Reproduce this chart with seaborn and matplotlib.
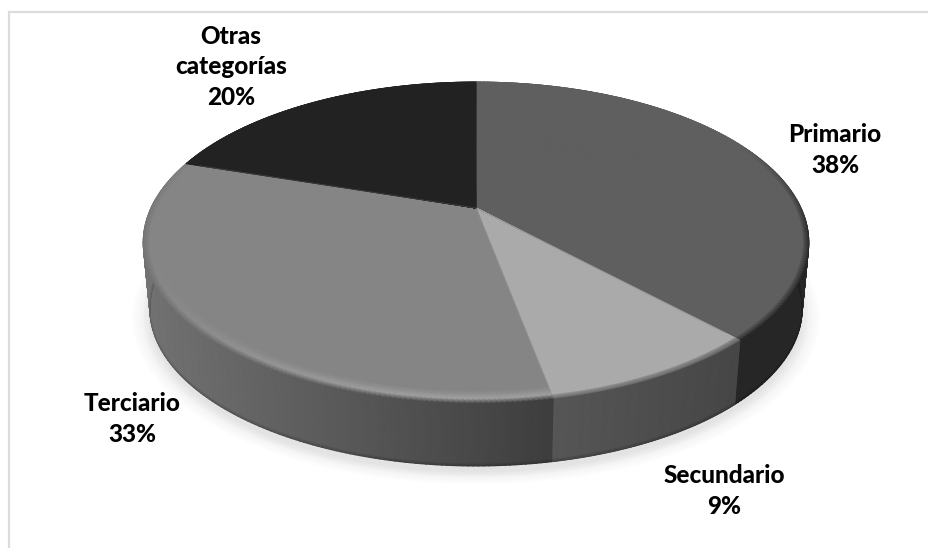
import numpy as np
import matplotlib
matplotlib.use("Agg")
import matplotlib.pyplot as plt
import seaborn as sns

# Sector shares, clockwise from twelve o'clock
categories = ["Primario", "Secundario", "Terciario", "Otras\ncategorías"]
shares = [38, 9, 33, 20]

# Grey levels per sector: top face, wall at its rightmost and leftmost point, rim highlight
face_grey = [95, 170, 133, 34]
wall_grey_right = [38, 70, 62, 40]
wall_grey_left = [38, 86, 114, 40]
rim_highlight = [0, 0, 28, 0]

label_xy = [(835, 150), (724, 491), (132, 419), (231, 67)]

sns.set_theme(style="white")
plt.rcParams["font.family"] = ["Lato", "DejaVu Sans"]

CX, CY = 476.0, 208.0
RX, SY, K = 325.0, 153.0, 0.215
DEPTH, SHRINK = 67.0, 0.98


def project(r, theta):
    """Perspective projection of polar disc coordinates onto the canvas."""
    u, v = r * np.sin(theta), -r * np.cos(theta)
    d = 1 - K * v
    return CX + RX * u / d, CY + SY * v / d


def lower(x, y, t=1.0):
    """Move a rim point down the wall by fraction t."""
    s = 1 - (1 - SHRINK) * t
    return CX + (x - CX) * s, CY + (y - CY) * s + DEPTH * t


def wall_shade(i, x):
    """Horizontal shading of a sector's wall."""
    w = (x.max() - x) / (x.max() - x.min())
    return wall_grey_right[i] + (wall_grey_left[i] - wall_grey_right[i]) * w


fig, ax = plt.subplots(figsize=(9.29, 5.48), dpi=100)
fig.subplots_adjust(0, 0, 1, 1)
ax.set_xlim(0, 929)
ax.set_ylim(548, 0)
ax.axis("off")
fig.patch.set_facecolor("white")

mesh_kw = dict(shading="gouraud", cmap="gray", vmin=0, vmax=255)

# Frame around the plot area
ax.plot([9, 9, 929], [548, 11.5, 11.5], color="#dcdcdc", lw=1.6, solid_capstyle="butt",
        solid_joinstyle="miter")

# Soft shadow on the ground below the disc
th = np.linspace(0, 2 * np.pi, 361)
rs = np.array([0.9, 1.0, 1.02, 1.05])
levels = np.array([224, 228, 243, 255])
R, T = np.meshgrid(rs, th, indexing="ij")
sx, sy = project(R, T)
sx, sy = lower(sx, sy)
ax.pcolormesh(sx, sy + 6, np.repeat(levels[:, None], th.size, axis=1), **mesh_kw)

edges = np.cumsum([0] + shares) / sum(shares) * 2 * np.pi

# Side walls
for i in range(len(shares)):
    th = np.linspace(edges[i], edges[i + 1], 160)
    ts = np.array([0, 0.96, 1.0])
    tx, ty = project(1.0, th)
    X = np.array([lower(tx, ty, t)[0] for t in ts])
    Y = np.array([lower(tx, ty, t)[1] for t in ts])
    g = wall_shade(i, tx)
    C = np.array([g, g, g * 0.75])
    ax.pcolormesh(X, Y, C, **mesh_kw)

# Top faces with a bevelled outer rim
for i in range(len(shares)):
    th = np.linspace(edges[i], edges[i + 1], 160)
    rs = np.array([0.0, 0.95, 0.968, 0.984, 1.0])
    R, T = np.meshgrid(rs, th, indexing="ij")
    X, Y = project(R, T)
    g = wall_shade(i, X[-1])
    v = -np.cos(th)
    f = np.clip((v + 0.45) / 0.6, 0, 1)
    hl = rim_highlight[i] * np.clip(v, 0, 1) ** 3
    base = np.full(th.size, float(face_grey[i]))
    C = np.array([
        base,
        base,
        base + 0.5 * hl,
        base + hl,
        base * (1 - f) + g * f,
    ])
    ax.pcolormesh(X, Y, C, **mesh_kw)

    # Antialiased straight edges and back arc over the mesh boundary
    grey = str(face_grey[i] / 255)
    for e in (edges[i], edges[i + 1]):
        ex, ey = project(np.array([0.0, 0.95]), e)
        ax.plot(ex, ey, color=grey, lw=0.5, alpha=0.5)
    back = f == 0
    if back.any():
        ox, oy = project(1.0, th[back])
        ax.plot(ox, oy, color=grey, lw=0.7, alpha=0.7)

# Category labels with their percentages
for name, share, (lx, ly) in zip(categories, shares, label_xy):
    ax.text(lx, ly, f"{name}\n{share}%", ha="center", va="center", fontsize=17.5,
            fontweight=900, color="black", linespacing=1.42)

fig.savefig("out.png", dpi=100, facecolor="white")
